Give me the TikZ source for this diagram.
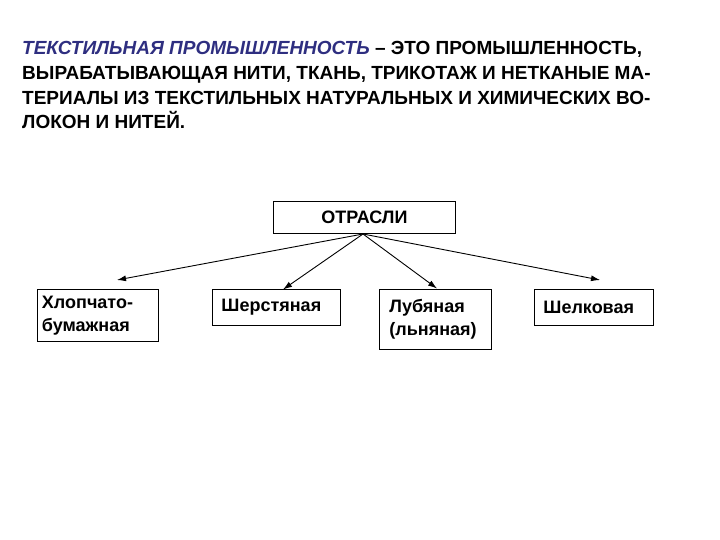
\documentclass[tikz,border=0pt]{standalone}
\usepackage{fontspec}
\usetikzlibrary{arrows.meta}
\setmainfont{Liberation Sans}
\definecolor{navy}{HTML}{2E2E80}
\begin{document}
\begin{tikzpicture}[x=1pt,y=-1pt,
  tl/.style={anchor=base west,inner sep=0,font=\fontsize{19}{20}\selectfont\bfseries},
  box/.style={draw,line width=0.9pt,anchor=north west,align=left,inner xsep=0,inner ysep=5pt,font=\fontsize{18}{23}\selectfont\bfseries},
  arr/.style={-{Latex[length=9pt,width=6pt]},line width=0.9pt}]
\useasboundingbox (0,0) rectangle (720,540);
\node[tl] (l1) at (22,55) {\textcolor{navy}{\itshape ТЕКСТИЛЬНАЯ ПРОМЫШЛЕННОСТЬ} – ЭТО ПРОМЫШЛЕННОСТЬ,};
\node[tl] (l2) at (22,80) {ВЫРАБАТЫВАЮЩАЯ НИТИ, ТКАНЬ, ТРИКОТАЖ И НЕТКАНЫЕ МА-};
\node[tl] (l3) at (22,105) {ТЕРИАЛЫ ИЗ ТЕКСТИЛЬНЫХ НАТУРАЛЬНЫХ И ХИМИЧЕСКИХ ВО-};
\node[tl] (l4) at (22,129) {ЛОКОН И НИТЕЙ.};
\node[box,minimum width=182,minimum height=32,align=center,inner ysep=0] (o) at (273,201) {ОТРАСЛИ};
\node[box,minimum width=121,minimum height=52,text width=116] (a) at (37,289) {\hspace*{2pt}Хлопчато-\\\hspace*{2pt}бумажная};
\node[box,minimum width=128,minimum height=36,text width=124] (b) at (212,289) {\hspace*{7pt}Шерстяная};
\node[box,minimum width=112,minimum height=60,text width=108] (c) at (379,289) {\hspace*{8pt}Лубяная\\\hspace*{8pt}(льняная)};
\node[box,minimum width=119,minimum height=36,text width=115] (d) at (534,289) {\hspace*{7pt}Шелковая};
\coordinate (s) at (363,234);
\coordinate (ta) at (117,280);
\coordinate (td) at (600,280);
\draw[arr] (s) -- (ta);
\draw[arr] (s) -- (283,289.5);
\draw[arr] (s) -- (437,288.5);
\draw[arr] (s) -- (td);
\end{tikzpicture}
\end{document}
